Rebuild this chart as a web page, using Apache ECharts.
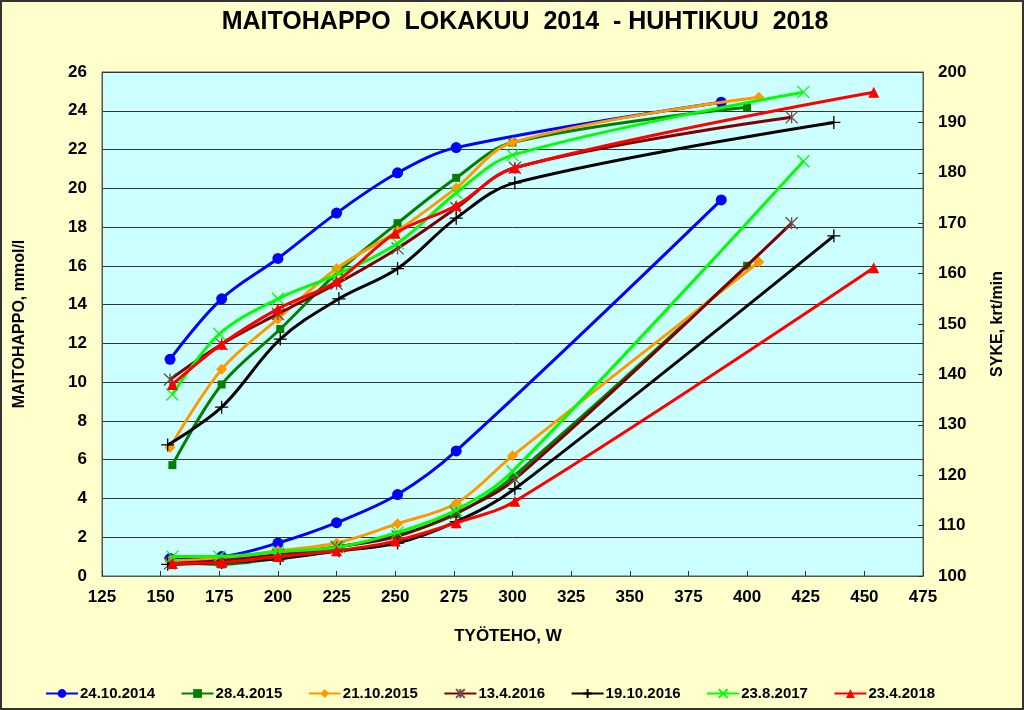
<!DOCTYPE html>
<html>
<head>
<meta charset="utf-8">
<script src="https://cdn.jsdelivr.net/npm/echarts@6/dist/echarts.min.js"></script>
<style>
html,body{margin:0;padding:0;background:#FFFFCC;}
#chart{width:1024px;height:710px;}
</style>
</head>
<body>
<div id="chart"></div>
<script>
// Legend names (test dates)
const names = ['24.10.2014', '28.4.2015', '21.10.2015', '13.4.2016', '19.10.2016', '23.8.2017', '23.4.2018'];
const colors = ['#0000FF', '#008000', '#FF9900', '#800000', '#000000', '#00FF00', '#FF0000'];

// Power (W) per test
const power1 = [154, 176, 200, 225, 251, 276, 389];
const power2 = [155, 176, 201, 226, 251, 276, 300, 400];
const power3 = [154, 176, 200, 225, 251, 276, 300, 405];
const power4 = [154, 176, 200, 225, 251, 276, 301, 419];
const power5 = [153, 176, 201, 226, 251, 276, 301, 437];
const power6 = [155, 175, 200, 226, 251, 276, 300, 424];
const power7 = [155, 176, 200, 225, 250, 276, 301, 454];

// Lactate, mmol/l (left axis)
const lac1 = [0.9, 1.0, 1.7, 2.75, 4.2, 6.45, 19.4];
const lac2 = [0.75, 0.6, 0.95, 1.5, 2.1, 3.2, 5.1, 16.0];
const lac3 = [0.8, 0.9, 1.3, 1.7, 2.7, 3.75, 6.2, 16.2];
const lac4 = [0.65, 0.8, 1.1, 1.5, 2.05, 3.25, 5.0, 18.2];
const lac5 = [0.6, 0.7, 0.9, 1.3, 1.7, 2.8, 4.5, 17.55];
const lac6 = [1.0, 1.0, 1.25, 1.5, 2.25, 3.4, 5.4, 21.4];
const lac7 = [0.65, 0.7, 1.0, 1.3, 1.8, 2.75, 3.85, 15.9];

// Heart rate, krt/min (right axis)
const hr1 = [143, 155, 163, 172, 180, 185, 194];
const hr2 = [122, 138, 149, 160.5, 170, 179, 186, 193];
const hr3 = [125.5, 141, 151, 161, 168.5, 177, 186, 195];
const hr4 = [139, 146, 152, 158, 165, 173, 181, 191];
const hr5 = [126, 133.5, 147, 155, 161, 171, 178, 190];
const hr6 = [136, 148, 155, 160, 166, 176, 183.5, 196];
const hr7 = [138, 146, 153, 158.5, 168, 173.5, 181, 196];

// Axis ticks
const xTicks = {min: 125, max: 475, interval: 25};
const yLeftTicks = {min: 0, max: 26, interval: 2};
const yRightTicks = {min: 100, max: 200, interval: 10};

const powers = [power1, power2, power3, power4, power5, power6, power7];
const lacs = [lac1, lac2, lac3, lac4, lac5, lac6, lac7];
const hrs = [hr1, hr2, hr3, hr4, hr5, hr6, hr7];

const FONT = 'Liberation Sans, Arial, Helvetica, sans-serif';

const symbols = [
  {symbol: 'circle', size: 11, stroke: false},
  {symbol: 'rect', size: 8, stroke: false},
  {symbol: 'diamond', size: 11, stroke: false},
  {symbol: 'path://M0,0L10,10M10,0L0,10M5,0L5,10', size: 12, stroke: true},
  {symbol: 'path://M0,5L10,5M5,0L5,10', size: 13, stroke: true},
  {symbol: 'path://M0,0L10,10M10,0L0,10', size: 12, stroke: true},
  {symbol: 'triangle', size: 11, stroke: false}
];

function pairs(xs, ys) { return xs.map((x, i) => [x, ys[i]]); }

const series = [];
for (let i = 0; i < names.length; i++) {
  const s = symbols[i];
  const itemStyle = s.stroke
    ? {color: colors[i], borderColor: i === 3 ? '#6b4a4a' : colors[i], borderWidth: 1.3}
    : {color: colors[i], borderColor: colors[i], borderWidth: 0};
  const common = {
    type: 'line',
    name: names[i],
    smooth: 0.35,
    symbol: s.symbol,
    symbolSize: s.size,
    showAllSymbol: true,
    lineStyle: {color: colors[i], width: 3},
    itemStyle: itemStyle,
    emphasis: {disabled: true},
    animation: false,
    z: 2 + i
  };
  series.push(Object.assign({}, common, {yAxisIndex: 0, data: pairs(powers[i], lacs[i])}));
  series.push(Object.assign({}, common, {yAxisIndex: 1, data: pairs(powers[i], hrs[i])}));
}

const chart = echarts.init(document.getElementById('chart'), null, {renderer: 'canvas'});
chart.setOption({
  backgroundColor: '#FFFFCC',
  animation: false,
  textStyle: {fontFamily: FONT},
  title: {
    text: 'MAITOHAPPO  LOKAKUU  2014  - HUHTIKUU  2018',
    left: 525,
    textAlign: 'center',
    top: 10,
    padding: 0,
    textStyle: {fontFamily: FONT, fontSize: 25, fontWeight: 'bold', color: '#000'}
  },
  legend: {
    data: names,
    left: 40,
    top: 681,
    itemWidth: 32,
    itemHeight: 11,
    itemGap: 25.5,
    textStyle: {fontFamily: FONT, fontSize: 15, fontWeight: 'bold', color: '#000', padding: [0, 0, 0, -3]}
  },
  grid: {
    left: 102, right: 101, top: 72, bottom: 134,
    show: true,
    backgroundColor: '#CCFFFF',
    borderColor: '#555',
    borderWidth: 1,
    containLabel: false,
    outerBoundsMode: 'none'
  },
  xAxis: {
    type: 'value',
    min: xTicks.min, max: xTicks.max, interval: xTicks.interval,
    name: 'TYÖTEHO, W',
    nameLocation: 'middle',
    nameGap: 52,
    nameTextStyle: {fontFamily: FONT, fontSize: 17, fontWeight: 'bold', color: '#000', padding: [0, 9, 0, 0]},
    axisLine: {show: true, lineStyle: {color: '#555', width: 1}},
    axisTick: {show: true, inside: true, length: 5, lineStyle: {color: '#333'}},
    axisLabel: {fontFamily: FONT, fontSize: 17, fontWeight: 'bold', color: '#000', margin: 13},
    splitLine: {show: false}
  },
  yAxis: [
    {
      type: 'value',
      position: 'left',
      min: yLeftTicks.min, max: yLeftTicks.max, interval: yLeftTicks.interval,
      name: 'MAITOHAPPO, mmol/l',
      nameLocation: 'middle',
      nameGap: 74,
      nameRotate: 90,
      nameTextStyle: {fontFamily: FONT, fontSize: 16, fontWeight: 'bold', color: '#000'},
      axisLine: {show: true, lineStyle: {color: '#555', width: 1}},
      axisTick: {show: false},
      axisLabel: {fontFamily: FONT, fontSize: 17, fontWeight: 'bold', color: '#000', margin: 15},
      splitLine: {show: true, lineStyle: {color: '#333', width: 1}}
    },
    {
      type: 'value',
      position: 'right',
      min: yRightTicks.min, max: yRightTicks.max, interval: yRightTicks.interval,
      name: 'SYKE, krt/min',
      nameLocation: 'middle',
      nameGap: 67,
      nameRotate: 90,
      nameTextStyle: {fontFamily: FONT, fontSize: 16, fontWeight: 'bold', color: '#000'},
      axisLine: {show: true, lineStyle: {color: '#555', width: 1}},
      axisTick: {show: true, inside: true, length: 5, lineStyle: {color: '#333'}},
      axisLabel: {fontFamily: FONT, fontSize: 17, fontWeight: 'bold', color: '#000', margin: 15},
      splitLine: {show: false}
    }
  ],
  graphic: [
    {type: 'rect', shape: {x: 1, y: 1, width: 1022, height: 708}, style: {fill: null, stroke: '#333', lineWidth: 2}, silent: true, z: 100}
  ],
  series: series
});
</script>
</body>
</html>
